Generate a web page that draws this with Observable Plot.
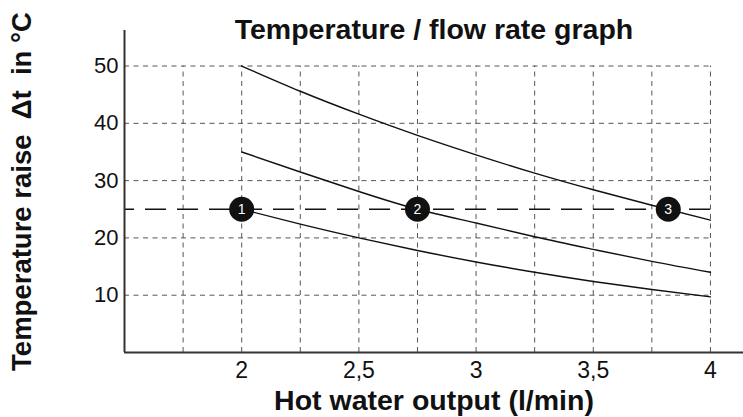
<!DOCTYPE html>
<html>
<head>
<meta charset="utf-8">
<script src="https://cdn.jsdelivr.net/npm/d3@7"></script>
<script src="https://cdn.jsdelivr.net/npm/@observablehq/plot@0.6"></script>
<style>
  html, body { margin: 0; padding: 0; background: #fff; }
  #chart { width: 743px; height: 417px; }
  svg { font-family: "Liberation Sans", Arial, Helvetica, sans-serif; }
</style>
</head>
<body>
<div id="chart"></div>
<script>
const titleText = "Temperature / flow rate graph";
const xLabel = "Hot water output (l/min)";
const yLabel = "Temperature raise  \u0394t  in \u00b0C";

const xTicks = [2, 2.5, 3, 3.5, 4];
const yTicks = [10, 20, 30, 40, 50];
const gridX = [1.75, 2, 2.25, 2.5, 2.75, 3, 3.25, 3.5, 3.75, 4];

const flowX = [2, 2.25, 2.5, 2.75, 3, 3.25, 3.5, 3.75, 4];
const curveHigh = [50, 45.6, 41.6, 37.9, 34.5, 31.3, 28.4, 25.7, 23.1];
const curveMid = [35.0, 31.5, 28.1, 25.0, 22.6, 20.2, 18.0, 15.9, 14.0];
const curveLow = [25.0, 22.4, 20.0, 17.8, 15.8, 14.0, 12.4, 11.0, 9.7];

const refLevel = 25;
const markerX = [2, 2.75, 3.82];
const markerLabels = ["1", "2", "3"];

const series = [
  {name: "high", values: curveHigh},
  {name: "mid", values: curveMid},
  {name: "low", values: curveLow}
];
const lineData = series.flatMap(s => flowX.map((x, i) => ({series: s.name, x, y: s.values[i]})));
const markers = markerX.map((x, i) => ({x, y: refLevel, label: markerLabels[i]}));

const xDomain = [1.5, 4.141];
const yDomain = [0, 56.2];
const gridDash = "5,4.5";
const gridColor = "#555";
const axisColor = "#333";

const chart = Plot.plot({
  width: 743,
  height: 417,
  marginLeft: 124,
  marginRight: 0,
  marginTop: 30,
  marginBottom: 65,
  x: {domain: xDomain},
  y: {domain: yDomain},
  style: {fontFamily: "'Liberation Sans', Arial, Helvetica, sans-serif", background: "#fff"},
  marks: [
    Plot.ruleX(gridX, {y1: 0, y2: 50, stroke: gridColor, strokeWidth: 1, strokeDasharray: gridDash}),
    Plot.ruleY(yTicks, {x1: xDomain[0], x2: 4, stroke: gridColor, strokeWidth: 1, strokeDasharray: gridDash}),
    Plot.ruleY([refLevel], {x1: xDomain[0], x2: 4, stroke: "#111", strokeWidth: 1.3, strokeDasharray: "21,11", strokeDashoffset: 11}),
    Plot.line(lineData, {x: "x", y: "y", z: "series", stroke: "#111", strokeWidth: 1.4, curve: "natural"}),
    Plot.ruleX([xDomain[0]], {y1: 0, y2: yDomain[1], stroke: axisColor, strokeWidth: 2}),
    Plot.ruleY([0], {x1: xDomain[0], x2: xDomain[1], stroke: axisColor, strokeWidth: 2}),
    Plot.dot(markers, {x: "x", y: "y", r: 12.5, fill: "#111", stroke: "none"}),
    Plot.text(markers, {x: "x", y: "y", text: "label", fill: "#fff", fontSize: 14}),
    Plot.axisX(xTicks, {tickSize: 0, tickPadding: 9, fontSize: 23, fill: "#111", label: null,
      tickFormat: d => String(d).replace(".", ",")}),
    Plot.axisY(yTicks, {tickSize: 0, tickPadding: 6, fontSize: 22, fill: "#111", label: null}),
    Plot.text([titleText], {frameAnchor: "top", dy: -1, lineAnchor: "middle", fontSize: 28.5, fontWeight: "bold", fill: "#111", text: d => d}),
    Plot.text([xLabel], {frameAnchor: "bottom", dy: 48, lineAnchor: "middle", fontSize: 28.5, fontWeight: "bold", fill: "#111", text: d => d}),
    Plot.text([yLabel], {frameAnchor: "left", dx: -102, rotate: -90, textAnchor: "middle", lineAnchor: "middle", fontSize: 27.5, fontWeight: "bold", fill: "#111", text: d => d})
  ]
});
document.getElementById("chart").appendChild(chart);
</script>
</body>
</html>
